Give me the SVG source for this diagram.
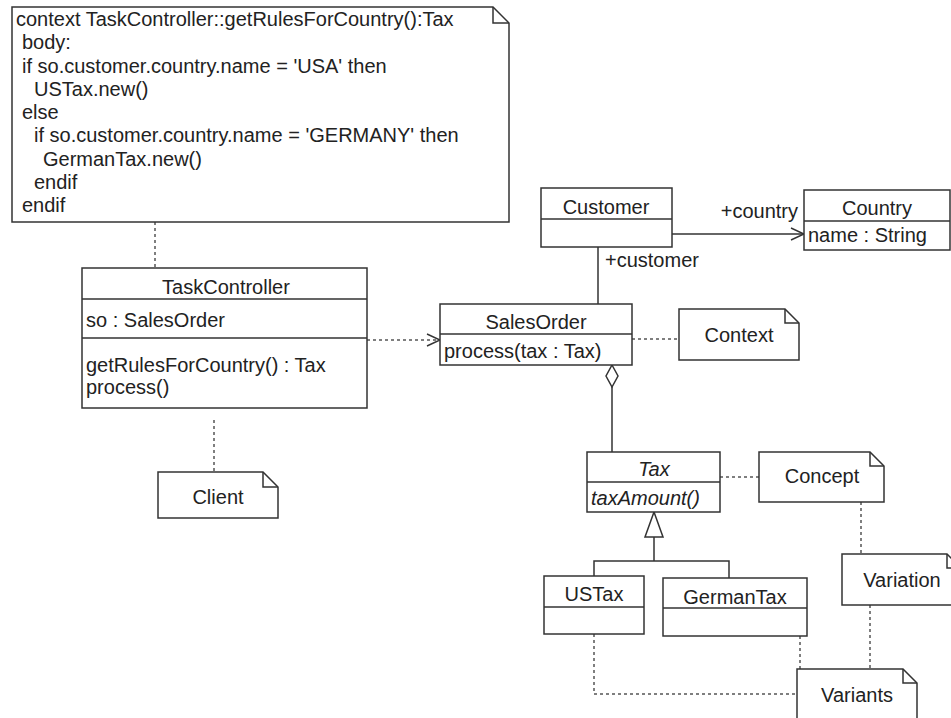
<svg xmlns="http://www.w3.org/2000/svg" width="951" height="718" viewBox="0 0 951 718">
<style>
text{font-family:"Liberation Sans",Arial,Helvetica,sans-serif;font-size:20px;fill:#222}
.c{text-anchor:middle}
.i{font-style:italic}
.box{fill:#fff;stroke:#333;stroke-width:1.5}
.ln{fill:none;stroke:#333;stroke-width:1.5}
.dot{fill:none;stroke:#555;stroke-width:1.5;stroke-dasharray:3 3}
</style>
<defs>
<marker id="open" markerUnits="userSpaceOnUse" markerWidth="16" markerHeight="16" refX="14" refY="7" orient="auto">
<path d="M1,1 L14,7 L1,13" fill="none" stroke="#333" stroke-width="1.4"/>
</marker>
</defs>

<g id="connectors">
<path class="dot" d="M155,222 V268"/>
<path class="dot" d="M214,420 V472"/>
<path class="dot" d="M367,340 H440" marker-end="url(#open)"/>
<path class="ln" d="M672,234 H804" marker-end="url(#open)"/>
<path class="ln" d="M598,247 V304"/>
<path class="dot" d="M632,339 H679"/>
<path class="ln" d="M612,387 V452"/>
<path class="ln" d="M612,365 L618,376 L612,387 L606,376 Z" fill="#fff"/>
<path class="dot" d="M720,477 H759"/>
<path class="ln" d="M654,537 V561 M594,576 V561 H729 V578"/>
<path class="ln" d="M654,512 L663,537 H645 Z" fill="#fff"/>
<path class="dot" d="M861,502 V554"/>
<path class="dot" d="M870,605 V669"/>
<path class="dot" d="M594,634 V694 H797"/>
<path class="dot" d="M800,636 V669"/>
</g>

<g id="ocl-note">
<path class="box" d="M12,7 H493 L509,23 V222 H12 Z"/>
<path class="ln" d="M493,7 V23 H509"/>
<text x="16" y="26">context TaskController::getRulesForCountry():Tax</text>
<text x="22" y="49">body:</text>
<text x="22" y="72.5">if so.customer.country.name = 'USA' then</text>
<text x="34" y="96">USTax.new()</text>
<text x="22" y="119">else</text>
<text x="34" y="142">if so.customer.country.name = 'GERMANY' then</text>
<text x="43" y="165.5">GermanTax.new()</text>
<text x="34" y="189">endif</text>
<text x="22" y="212">endif</text>
</g>

<g id="TaskController">
<rect class="box" x="82" y="268" width="285" height="140"/>
<path class="ln" d="M82,299 H367 M82,338 H367"/>
<text class="c" x="226" y="294">TaskController</text>
<text x="86" y="327">so : SalesOrder</text>
<text x="86" y="372">getRulesForCountry() : Tax</text>
<text x="86" y="394">process()</text>
</g>

<g id="Client">
<path class="box" d="M158,472 H263 L278,487 V518 H158 Z"/>
<path class="ln" d="M263,472 V487 H278"/>
<text class="c" x="218" y="504">Client</text>
</g>

<g id="Customer">
<rect class="box" x="541" y="188" width="131" height="59"/>
<path class="ln" d="M541,219 H672"/>
<text class="c" x="606" y="214">Customer</text>
</g>

<g id="Country">
<rect class="box" x="804" y="190" width="146" height="60"/>
<path class="ln" d="M804,221 H950"/>
<text class="c" x="877" y="215">Country</text>
<text x="808" y="242">name : String</text>
</g>

<g id="labels">
<text x="798" y="218" text-anchor="end">+country</text>
<text x="605" y="267">+customer</text>
</g>

<g id="SalesOrder">
<rect class="box" x="440" y="304" width="192" height="61"/>
<path class="ln" d="M440,334 H632"/>
<text class="c" x="536" y="329">SalesOrder</text>
<text x="444" y="358">process(tax : Tax)</text>
</g>

<g id="Context">
<path class="box" d="M679,309 H785 L799,323 V360 H679 Z"/>
<path class="ln" d="M785,309 V323 H799"/>
<text class="c" x="739" y="342">Context</text>
</g>

<g id="Tax">
<rect class="box" x="587" y="452" width="133" height="60"/>
<path class="ln" d="M587,482 H720"/>
<text class="c i" x="654" y="476">Tax</text>
<text class="i" x="591" y="505">taxAmount()</text>
</g>

<g id="Concept">
<path class="box" d="M759,452 H870 L884,466 V502 H759 Z"/>
<path class="ln" d="M870,452 V466 H884"/>
<text class="c" x="822" y="483">Concept</text>
</g>

<g id="USTax">
<rect class="box" x="544" y="576" width="100" height="58"/>
<path class="ln" d="M544,607 H644"/>
<text class="c" x="594" y="601">USTax</text>
</g>

<g id="GermanTax">
<rect class="box" x="663" y="578" width="144" height="58"/>
<path class="ln" d="M663,608 H807"/>
<text class="c" x="735" y="604">GermanTax</text>
</g>

<g id="Variation">
<path class="box" d="M842,554 H947 L961,568 V605 H842 Z"/>
<path class="ln" d="M947,554 V568 H961"/>
<text class="c" x="902" y="587">Variation</text>
</g>

<g id="Variants">
<path class="box" d="M797,669 H903 L917,683 V730 H797 Z"/>
<path class="ln" d="M903,669 V683 H917"/>
<text class="c" x="857" y="702">Variants</text>
</g>
</svg>
